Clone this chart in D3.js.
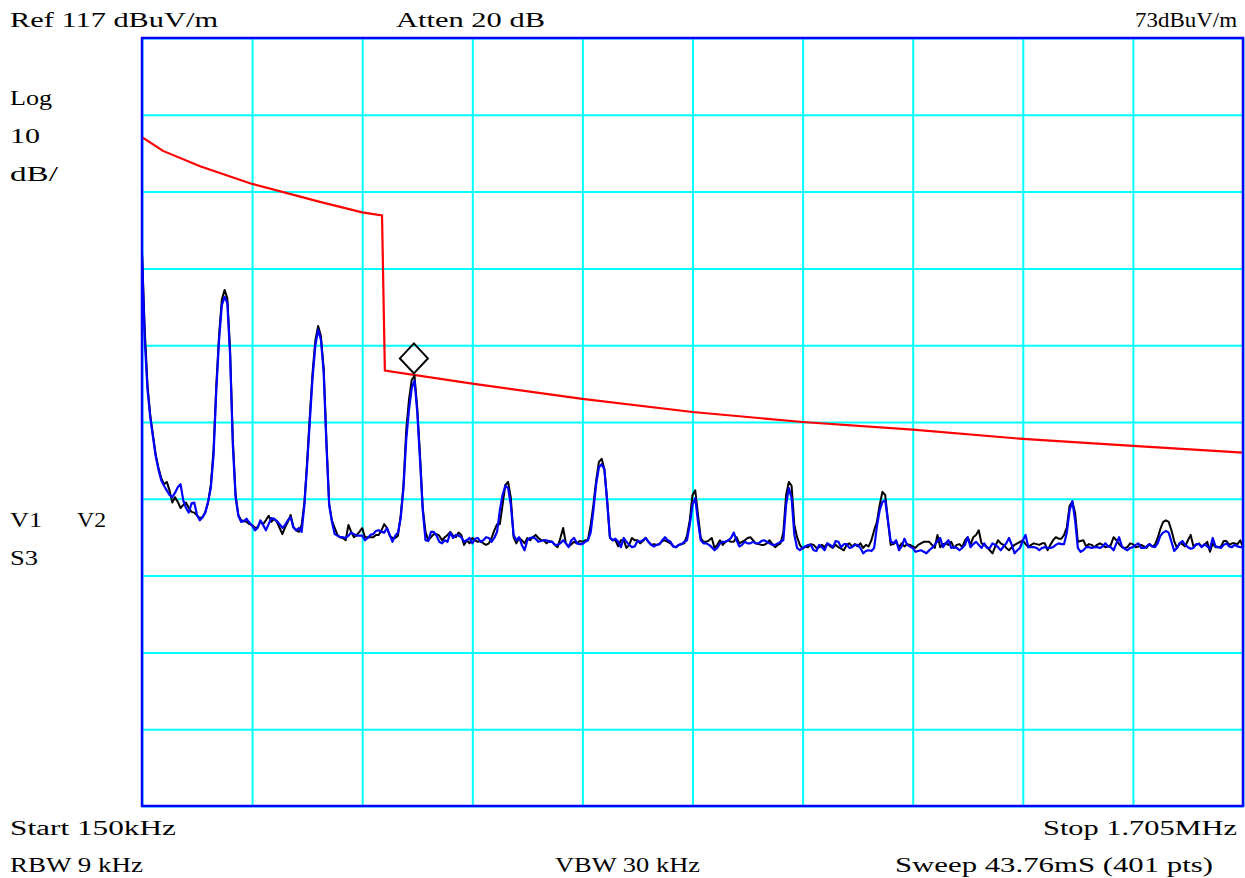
<!DOCTYPE html>
<html>
<head>
<meta charset="utf-8">
<script src="https://cdn.jsdelivr.net/npm/d3@7"></script>
<style>
  html, body { margin: 0; padding: 0; background: #fff; }
  text { font-family: "Liberation Serif", "DejaVu Serif", serif; font-size: 20px; fill: #000; }
</style>
</head>
<body>
<svg id="analyzer"></svg>
<script>
// sweep settings
const startKHz = 150, stopKHz = 1705, sweepPts = 401
const refLevel = 117, dbPerDiv = 10, divisions = 10

// peak trace (black) and average trace (blue), dBuV/m, one value per sweep point
const traceBlack = [
  89.1, 79.0, 71.8, 67.9, 65.3, 62.7, 61.0, 59.7, 58.9, 59.2, 58.1, 56.5, 57.2, 56.6, 55.8, 56.2, 56.5, 55.8, 55.3, 55.2,
  54.8, 54.5, 54.6, 55.3, 56.5, 58.8, 63.4, 71.8, 78.3, 82.9, 84.2, 83.1, 76.4, 64.7, 57.5, 54.9, 54.2, 54.1, 54.0, 53.7,
  53.6, 53.2, 53.3, 54.0, 53.7, 54.2, 54.8, 54.0, 54.4, 54.0, 53.2, 52.4, 53.3, 54.0, 54.9, 53.3, 52.9, 52.7, 53.6, 56.5,
  61.9, 68.0, 73.6, 77.7, 79.5, 78.2, 74.0, 64.7, 56.3, 54.2, 53.2, 52.3, 52.0, 51.9, 51.6, 53.6, 52.7, 52.0, 52.3, 52.7,
  53.2, 52.0, 52.0, 52.0, 52.0, 52.3, 52.3, 52.9, 53.7, 53.2, 52.2, 51.9, 51.9, 52.2, 54.9, 58.8, 66.0, 69.9, 72.5, 73.0,
  68.8, 62.7, 55.8, 52.7, 51.6, 52.0, 52.4, 52.4, 52.2, 51.6, 52.0, 52.3, 52.7, 52.2, 52.0, 52.6, 52.3, 51.0, 51.6, 51.2,
  51.9, 51.6, 51.4, 51.5, 51.2, 51.0, 51.2, 51.9, 52.9, 53.7, 53.7, 56.2, 58.8, 59.2, 57.1, 52.0, 51.2, 51.9, 51.6, 51.2,
  51.9, 51.6, 52.0, 52.3, 51.9, 51.6, 51.6, 51.2, 51.5, 51.4, 51.0, 50.7, 51.9, 53.2, 51.2, 50.8, 51.1, 51.4, 51.2, 51.5,
  51.4, 51.6, 51.6, 53.6, 56.2, 59.4, 61.8, 62.2, 60.8, 56.8, 51.9, 51.6, 51.6, 50.8, 51.6, 51.6, 50.6, 51.0, 51.9, 51.6,
  51.6, 51.2, 51.5, 51.9, 51.4, 51.0, 51.1, 51.0, 51.1, 51.5, 51.6, 51.4, 51.2, 50.8, 50.7, 51.0, 51.1, 51.2, 52.2, 54.2,
  57.5, 58.1, 54.9, 51.9, 51.4, 51.4, 51.6, 51.9, 50.6, 51.0, 51.6, 51.0, 51.4, 51.6, 51.4, 51.4, 52.0, 51.2, 51.4, 51.6,
  51.9, 52.0, 51.6, 51.2, 51.1, 51.0, 51.0, 51.2, 51.6, 51.1, 50.7, 51.0, 51.2, 52.6, 57.5, 59.2, 58.7, 53.6, 52.0, 51.0,
  50.5, 50.8, 50.7, 51.1, 51.0, 50.6, 50.7, 51.0, 50.7, 51.2, 50.8, 50.6, 51.0, 50.7, 50.5, 50.3, 51.0, 51.2, 50.8, 51.1,
  50.8, 51.2, 50.6, 51.0, 50.8, 51.6, 52.9, 54.0, 56.2, 57.9, 57.5, 54.2, 51.0, 51.1, 51.4, 50.7, 51.2, 50.8, 51.1, 51.0,
  50.8, 50.6, 51.0, 51.2, 51.4, 51.4, 51.4, 51.0, 50.6, 52.3, 50.7, 51.1, 51.2, 51.0, 51.4, 50.6, 51.0, 51.1, 50.7, 51.6,
  52.0, 51.0, 52.0, 52.3, 52.9, 51.2, 51.0, 50.7, 50.3, 49.9, 50.8, 51.6, 51.2, 51.0, 50.6, 50.3, 50.7, 51.0, 51.2, 51.4,
  51.6, 51.1, 50.7, 51.0, 51.2, 51.1, 51.0, 51.2, 51.2, 50.3, 51.0, 51.6, 52.0, 51.8, 51.8, 52.3, 53.3, 56.1, 56.6, 55.2,
  51.4, 51.5, 51.6, 50.8, 51.1, 51.0, 50.7, 51.0, 51.2, 51.0, 50.7, 50.8, 51.0, 52.0, 51.6, 51.1, 50.7, 50.6, 50.7, 51.2,
  51.1, 50.7, 50.8, 51.0, 50.8, 50.6, 51.1, 50.8, 51.0, 51.9, 53.1, 54.0, 54.2, 54.0, 52.9, 51.5, 50.6, 51.2, 51.1, 50.8,
  51.6, 52.3, 50.8, 51.0, 51.2, 50.8, 51.0, 51.4, 50.1, 51.2, 50.7, 50.7, 50.8, 51.5, 51.5, 51.0, 51.2, 51.2, 51.1, 51.6,
  50.7
]

const traceBlue = [
  88.6, 77.7, 71.2, 67.6, 65.0, 62.5, 60.8, 59.4, 58.7, 58.1, 57.5, 57.2, 57.8, 58.5, 58.9, 56.8, 55.8, 55.2, 56.4, 56.5,
  54.9, 54.2, 54.6, 55.2, 56.6, 58.4, 62.7, 71.2, 77.7, 82.2, 83.3, 82.5, 75.7, 64.0, 57.2, 54.8, 54.0, 54.1, 54.4, 53.9,
  53.5, 52.9, 53.2, 54.2, 53.6, 52.9, 53.7, 54.5, 54.4, 54.1, 53.7, 53.2, 53.6, 54.2, 54.6, 53.3, 52.9, 53.2, 52.7, 56.2,
  61.4, 67.3, 72.9, 77.0, 79.0, 77.7, 73.5, 64.0, 56.2, 54.0, 52.4, 52.2, 52.0, 52.0, 51.9, 52.2, 52.6, 52.4, 52.2, 52.2,
  52.2, 51.6, 51.9, 52.3, 52.4, 52.8, 52.9, 52.7, 52.6, 53.2, 52.3, 51.4, 52.2, 52.6, 54.5, 58.4, 64.7, 68.6, 71.4, 72.4,
  68.3, 62.1, 55.5, 51.6, 51.5, 52.7, 52.7, 52.2, 51.4, 51.2, 51.6, 51.4, 52.6, 51.9, 52.3, 52.2, 52.0, 51.4, 51.6, 51.9,
  51.2, 51.8, 51.9, 51.4, 51.6, 52.0, 51.9, 51.4, 51.9, 52.7, 55.5, 57.5, 58.7, 58.4, 56.2, 52.3, 51.6, 52.0, 51.0, 50.3,
  51.6, 51.9, 52.0, 51.8, 51.4, 51.5, 51.6, 51.6, 51.4, 51.4, 51.0, 51.0, 51.2, 51.6, 51.2, 50.7, 51.6, 51.9, 51.2, 51.1,
  51.1, 51.4, 51.6, 52.6, 55.5, 58.9, 61.1, 61.5, 60.8, 56.6, 52.0, 51.6, 51.8, 51.4, 50.7, 51.9, 51.4, 51.0, 50.7, 50.8,
  51.5, 51.4, 51.6, 51.9, 51.4, 51.0, 50.8, 51.0, 51.1, 51.6, 52.0, 51.6, 51.4, 50.8, 50.7, 51.0, 51.1, 51.4, 51.6, 53.6,
  56.2, 57.1, 54.0, 51.6, 51.2, 51.2, 51.0, 50.7, 50.3, 50.6, 51.2, 51.4, 51.4, 51.6, 51.9, 52.6, 51.6, 50.8, 51.0, 51.4,
  51.2, 51.2, 51.4, 51.2, 51.2, 51.5, 51.6, 51.4, 51.2, 51.0, 51.0, 51.2, 51.4, 51.6, 56.2, 58.4, 57.1, 52.3, 50.6, 50.3,
  50.6, 50.8, 51.0, 51.0, 50.3, 50.2, 51.0, 50.7, 50.3, 51.2, 51.0, 50.7, 51.5, 51.4, 50.7, 51.1, 51.1, 50.6, 50.7, 51.0,
  51.0, 50.6, 49.9, 50.2, 50.3, 50.2, 50.6, 53.4, 55.5, 56.6, 56.8, 54.2, 51.5, 51.2, 51.6, 50.3, 50.8, 51.8, 51.0, 50.8,
  50.6, 50.1, 50.2, 50.3, 50.1, 49.9, 50.3, 50.6, 51.0, 51.5, 51.9, 50.7, 51.2, 51.6, 50.6, 50.7, 50.6, 50.3, 50.6, 51.0,
  52.0, 50.7, 51.1, 51.4, 51.0, 50.6, 51.2, 50.6, 50.6, 51.2, 51.0, 50.7, 50.3, 50.8, 51.2, 51.9, 51.0, 49.9, 50.3, 50.6,
  51.6, 52.3, 50.7, 50.7, 50.7, 50.6, 50.3, 50.6, 50.7, 50.6, 50.6, 50.7, 51.0, 51.2, 51.1, 51.1, 52.6, 55.5, 56.7, 54.2,
  50.6, 50.1, 50.3, 50.7, 50.7, 50.6, 50.7, 50.7, 50.6, 50.8, 51.2, 50.8, 50.7, 50.3, 51.2, 52.0, 50.8, 50.5, 50.3, 50.6,
  50.7, 51.0, 51.2, 50.6, 50.6, 50.8, 51.1, 50.8, 50.7, 51.2, 52.2, 52.6, 52.8, 52.6, 51.4, 50.2, 50.6, 51.2, 51.5, 51.0,
  50.7, 50.5, 50.6, 51.1, 51.1, 50.7, 51.1, 50.8, 50.5, 51.9, 50.8, 50.7, 50.6, 51.0, 51.2, 50.8, 50.7, 51.0, 50.8, 50.7,
  50.7
]

// limit line (red)
const limitFreq = [150, 179.7, 232, 305.5, 400, 461, 489, 493, 616.5, 772, 927.5, 1083, 1238.5, 1394, 1549.5, 1705]
const limitVal  = [104.1, 102.3, 100.3, 98.0, 95.7, 94.3, 93.9, 73.7, 72.0, 70.0, 68.3, 67.0, 66.0, 64.8, 63.9, 63.0]

// marker
const markerFreq = 534, markerVal = 73.2

// annotation texts: [text, x, baseline, width]
const labels = [
  ["Ref 117 dBuV/m", 10, 27, 208], ["Atten 20 dB", 396, 27, 149], ["73dBuV/m", 1135, 27, 102],
  ["Log", 10, 105, 42], ["10", 10, 143, 30], ["dB/", 10, 181, 48],
  ["V1", 10, 527, 32], ["V2", 77, 527, 29], ["S3", 10, 565, 28],
  ["Start 150kHz", 10, 835, 166], ["Stop 1.705MHz", 1043, 835, 194],
  ["RBW 9 kHz", 10, 872, 133], ["VBW 30 kHz", 555, 872, 145], ["Sweep 43.76mS (401 pts)", 895, 872, 318]
]

const width = 1245, height = 878
const plot = { left: 142, right: 1243, top: 38, bottom: 806 }

const svg = d3.select("#analyzer")
    .attr("width", width)
    .attr("height", height)

const x = d3.scaleLinear().domain([startKHz, stopKHz]).range([plot.left, plot.right])
const y = d3.scaleLinear().domain([refLevel - dbPerDiv * divisions, refLevel]).range([plot.bottom, plot.top])

const step = (stopKHz - startKHz) / (sweepPts - 1)
const freqAt = i => startKHz + i * step

// graticule from the axes
const xGrid = d3.range(divisions + 1).map(k => startKHz + k * (stopKHz - startKHz) / divisions)
const yGrid = d3.range(divisions + 1).map(k => refLevel - k * dbPerDiv)

svg.append("g")
    .attr("class", "grid")
    .attr("transform", "translate(0," + plot.bottom + ")")
    .call(d3.axisBottom(x).tickValues(xGrid).tickSize(-(plot.bottom - plot.top)).tickFormat(""))

svg.append("g")
    .attr("class", "grid")
    .attr("transform", "translate(" + plot.left + ",0)")
    .call(d3.axisLeft(y).tickValues(yGrid).tickSize(-(plot.right - plot.left)).tickFormat(""))

svg.selectAll(".grid .domain").remove()
svg.selectAll(".grid line")
    .attr("stroke", "#00ffff")
    .attr("stroke-width", 2)

svg.append("defs").append("clipPath").attr("id", "plotClip")
    .append("rect")
    .attr("x", plot.left).attr("y", plot.top)
    .attr("width", plot.right - plot.left).attr("height", plot.bottom - plot.top)

const traces = svg.append("g").attr("clip-path", "url(#plotClip)")

const sweepLine = d3.line()
    .x((d, i) => x(freqAt(i)))
    .y(d => y(d))

traces.append("path")
    .datum(limitFreq.map((f, i) => [f, limitVal[i]]))
    .attr("fill", "none")
    .attr("stroke", "#ff0000")
    .attr("stroke-width", 2.2)
    .attr("d", d3.line().x(d => x(d[0])).y(d => y(d[1])))

traces.append("path")
    .datum(traceBlack)
    .attr("fill", "none")
    .attr("stroke", "#000000")
    .attr("stroke-width", 2)
    .attr("stroke-linejoin", "round")
    .attr("d", sweepLine)

traces.append("path")
    .datum(traceBlue)
    .attr("fill", "none")
    .attr("stroke", "#0000ff")
    .attr("stroke-width", 2.2)
    .attr("stroke-linejoin", "round")
    .attr("d", sweepLine)

// frame
svg.append("rect")
    .attr("x", plot.left).attr("y", plot.top)
    .attr("width", plot.right - plot.left).attr("height", plot.bottom - plot.top)
    .attr("fill", "none")
    .attr("stroke", "#0000ff")
    .attr("stroke-width", 2.5)

// diamond marker sitting on the peak
const mx = x(markerFreq), my = y(markerVal)
svg.append("path")
    .attr("d", "M" + mx + "," + (my - 1) + "l14,-15l-14,-15l-14,15z")
    .attr("fill", "none")
    .attr("stroke", "#000")
    .attr("stroke-width", 2)

svg.selectAll("text.label")
    .data(labels)
    .join("text")
    .attr("class", "label")
    .attr("x", d => d[1])
    .attr("y", d => d[2])
    .attr("textLength", d => d[3])
    .attr("lengthAdjust", "spacingAndGlyphs")
    .text(d => d[0])
</script>
</body>
</html>
